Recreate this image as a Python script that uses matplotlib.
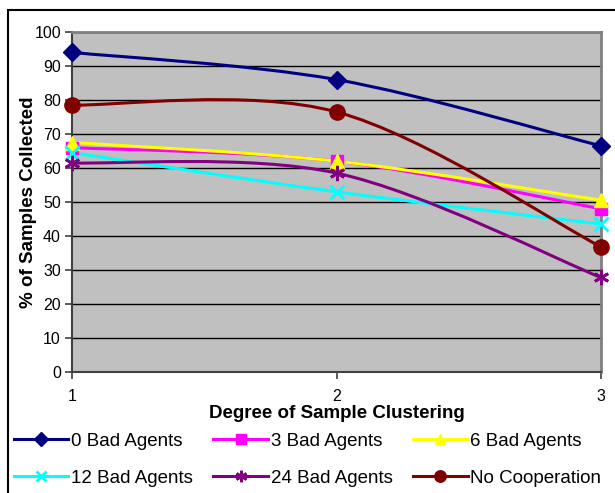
import matplotlib
matplotlib.use("Agg")
import matplotlib.pyplot as plt
from matplotlib.path import Path
from matplotlib.patches import PathPatch, Rectangle
from matplotlib.lines import Line2D
import numpy as np

plt.rcParams['font.family'] = ['Liberation Sans', 'DejaVu Sans']

clustering = [1, 2, 3]
series_names = ["0 Bad Agents", "3 Bad Agents", "6 Bad Agents",
                "12 Bad Agents", "24 Bad Agents", "No Cooperation"]
bad0 = [94.0, 86.0, 66.5]
bad3 = [66.0, 62.0, 48.0]
bad6 = [67.5, 62.0, 50.5]
bad12 = [64.5, 53.0, 43.5]
bad24 = [61.5, 58.5, 27.8]
no_coop = [78.5, 76.5, 36.8]

colors = ["#000080", "#FF00FF", "#FFFF00", "#00FFFF", "#800080", "#800000"]
markers = ["D", "s", "^", "x", (6, 2, 0), "o"]
msizes = [9, 9, 10, 10, 11, 11]
values = [bad0, bad3, bad6, bad12, bad24, no_coop]


def smooth_path(xs, ys):
    """Cubic Bezier path through the points (Catmull-Rom style smoothing)."""
    pts = np.column_stack([xs, ys]).astype(float)
    n = len(pts)
    verts = [pts[0]]
    codes = [Path.MOVETO]
    for i in range(n - 1):
        p0 = pts[max(i - 1, 0)]
        p1 = pts[i]
        p2 = pts[i + 1]
        p3 = pts[min(i + 2, n - 1)]
        c1 = p1 + (p2 - p0) / 6.0
        c2 = p2 - (p3 - p1) / 6.0
        verts += [c1, c2, p2]
        codes += [Path.CURVE4] * 3
    return Path(verts, codes)


fig = plt.figure(figsize=(6.15, 4.93), dpi=100)
ax = fig.add_axes([72 / 615, 1 - 372 / 493, (601 - 72) / 615, (372 - 32) / 493])
ax.set_facecolor("#C0C0C0")

handles = []
for name, ys, c, m, ms in zip(series_names, values, colors, markers, msizes):
    mew = 2 if m in ("x", (6, 2, 0)) else 1
    patch = PathPatch(smooth_path(clustering, ys), facecolor="none",
                      edgecolor=c, lw=2.2, zorder=3, capstyle="round")
    ax.add_patch(patch)
    ax.plot(clustering, ys, linestyle="none", marker=m, markersize=ms,
            color=c, markeredgecolor=c, markeredgewidth=mew,
            zorder=4, clip_on=False)
    handles.append(Line2D([], [], color=c, lw=2.2, marker=m, markersize=ms * 0.75,
                          markeredgewidth=mew))

ax.set_xlim(1, 3)
ax.set_ylim(0, 100)
ax.set_yticks(range(0, 101, 10))
ax.set_xticks(clustering)
ax.yaxis.grid(True, color="black", lw=1)
ax.set_axisbelow(True)
ax.tick_params(axis="both", labelsize=11.5, direction="out", length=5,
               color="#404040", width=1.2)
ax.tick_params(axis="y", pad=3)
ax.tick_params(axis="x", pad=7)

for side in ("left", "bottom"):
    ax.spines[side].set_color("#404040")
    ax.spines[side].set_linewidth(1.5)
for side in ("right", "top"):
    ax.spines[side].set_color("#808080")
    ax.spines[side].set_linewidth(2)

ax.set_ylabel("% of Samples Collected", fontsize=13.5, fontweight="bold", labelpad=-2)
ax.set_xlabel("Degree of Sample Clustering", fontsize=13.5, fontweight="bold", labelpad=1)

order = [0, 3, 1, 4, 2, 5]
fig.legend([handles[i] for i in order], [series_names[i] for i in order],
           ncol=3, loc="upper left", bbox_to_anchor=(10 / 615, 1 - 429 / 493),
           frameon=False, fontsize=13.5, handlelength=2.9, handletextpad=0.15,
           columnspacing=1.1, labelspacing=1.05, borderaxespad=0, borderpad=0.2)

fig.add_artist(Rectangle((8 / 615, -0.02), 1.0, 1 - 10 / 493 + 0.02,
                         transform=fig.transFigure, fill=False,
                         edgecolor="black", lw=1.5, zorder=0))

fig.savefig("out.png", dpi=100)
